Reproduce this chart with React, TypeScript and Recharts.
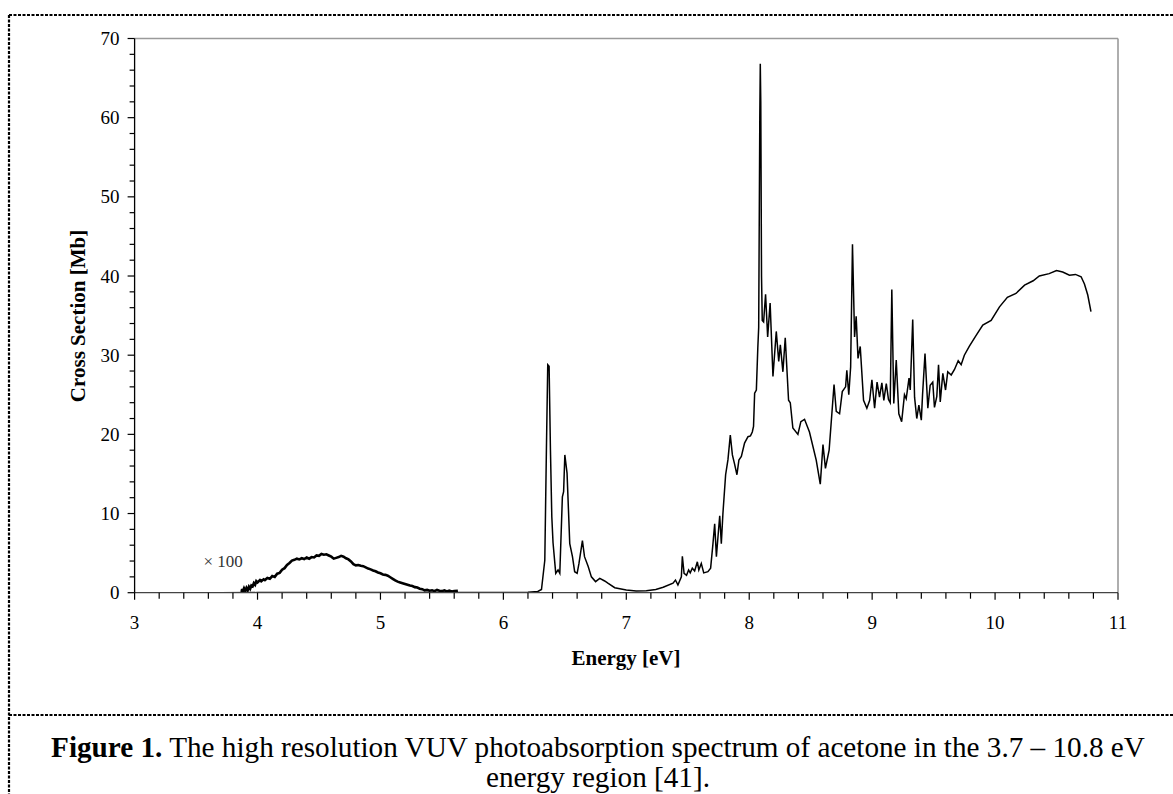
import React from 'react';
import { LineChart, Line, XAxis, YAxis, ReferenceLine, ReferenceDot } from 'recharts';

// Main spectrum: energy [eV] and cross section [Mb]
const mainEnergy = [
  3.7, 4.0, 5.0, 5.6, 6.0, 6.2, 6.28, 6.31, 6.337, 6.35, 6.361, 6.372, 6.383, 6.394, 6.404, 6.426, 6.445, 6.459,
  6.48, 6.49, 6.5, 6.518, 6.54, 6.562, 6.58, 6.6, 6.615, 6.643, 6.66, 6.69, 6.716, 6.75, 6.784, 6.824, 6.85, 6.906,
  7.0, 7.08, 7.163, 7.24, 7.3, 7.38, 7.4, 7.42, 7.448, 7.456, 7.47, 7.49, 7.507, 7.52, 7.537, 7.556, 7.578, 7.59,
  7.61, 7.63, 7.664, 7.686, 7.705, 7.719, 7.733, 7.746, 7.76, 7.773, 7.786, 7.808, 7.827, 7.846, 7.863, 7.88, 7.9,
  7.916, 7.936, 7.962, 7.99, 8.01, 8.025, 8.035, 8.044, 8.058, 8.07, 8.077, 8.086, 8.09, 8.094, 8.1, 8.106, 8.117,
  8.133, 8.15, 8.17, 8.193, 8.22, 8.24, 8.253, 8.274, 8.293, 8.32, 8.334, 8.355, 8.396, 8.42, 8.45, 8.49, 8.545,
  8.578, 8.6, 8.62, 8.65, 8.69, 8.708, 8.735, 8.757, 8.784, 8.794, 8.81, 8.825, 8.84, 8.857, 8.87, 8.885, 8.903,
  8.93, 8.957, 8.98, 8.998, 9.02, 9.04, 9.06, 9.079, 9.095, 9.115, 9.133, 9.147, 9.16, 9.176, 9.196, 9.217, 9.24,
  9.263, 9.277, 9.3, 9.31, 9.33, 9.345, 9.363, 9.38, 9.4, 9.41, 9.43, 9.453, 9.472, 9.493, 9.507, 9.526, 9.54,
  9.554, 9.575, 9.597, 9.615, 9.643, 9.67, 9.7, 9.724, 9.75, 9.79, 9.846, 9.9, 9.968, 10.036, 10.1, 10.17, 10.24,
  10.31, 10.36, 10.44, 10.5, 10.55, 10.605, 10.654, 10.7, 10.727, 10.754, 10.78,
];
const mainCross = [
  0, 0.01, 0.02, 0.01, 0.02, 0.05, 0.15, 0.4, 4.1, 18, 28.8, 28.6, 18, 9.6, 6.3, 2.45, 2.87, 2.45,
  12.1, 12.75, 17.4, 15.1, 6.2, 4.55, 2.65, 2.45, 3.7, 6.57, 4.55, 3.3, 2.0, 1.4, 1.8, 1.48, 1.2, 0.63,
  0.34, 0.22, 0.25, 0.4, 0.68, 1.2, 1.6, 0.97, 2.0, 4.6, 2.45, 2.2, 2.87, 2.5, 3.1, 2.74, 3.9, 2.87,
  3.7, 2.5, 2.65, 3.1, 6.2, 8.7, 4.55, 7.1, 9.7, 6.2, 10, 14.9, 16.8, 19.9, 17.4, 16.3, 14.9,
  16.75, 17.2, 18.9, 19.7, 19.8, 20.3, 21, 25.2, 25.6, 31, 33.5, 60, 66.8, 62, 40, 34.4, 34.2,
  37.7, 32.3, 36.6, 27.3, 33, 29.2, 31.3, 27.9, 32.2, 24.3, 24, 20.8, 20, 21.6, 21.9, 20.3, 16.75,
  13.7, 18.7, 15.7, 18, 26.3, 22.9, 22.6, 25.4, 26, 28.1, 25, 28.5, 44, 32.3, 34.9, 29.6, 31.1,
  24.3, 23.3, 24.3, 26.9, 23.3, 26.6, 24.7, 26.5, 24.3, 26.4, 24.4, 24, 38.3, 23.9, 29.4, 22.6, 21.6,
  25, 24.5, 27.1, 25.6, 34.5, 24.7, 22, 23.7, 21.8, 25, 30.2, 23.3, 26.2, 26.6, 23.4, 24.8, 28.8,
  24.1, 27.7, 25.6, 27.9, 27.5, 28.2, 29.3, 28.8, 30, 31.1, 32.5, 33.8, 34.4, 36.1, 37.3, 37.8, 38.85,
  39.4, 40, 40.3, 40.7, 40.5, 40.1, 40.2, 39.9, 39, 37.6, 35.5,
];

// Weak n→π* band, shown multiplied by 100
const lowEnergy = [
  3.87, 3.875, 3.88, 3.89, 3.9, 3.91, 3.92, 3.93, 3.94, 3.95, 3.96, 3.97, 3.98, 3.99, 4.0, 4.02, 4.03, 4.05,
  4.06, 4.08, 4.1, 4.12, 4.14, 4.16, 4.18, 4.2, 4.22, 4.24, 4.26, 4.28, 4.3, 4.32, 4.34, 4.36, 4.38, 4.4,
  4.42, 4.44, 4.46, 4.48, 4.5, 4.52, 4.54, 4.56, 4.58, 4.6, 4.62, 4.64, 4.66, 4.68, 4.7, 4.72, 4.74, 4.76,
  4.78, 4.8, 4.82, 4.84, 4.86, 4.88, 4.9, 4.92, 4.94, 4.96, 4.98, 5.0, 5.02, 5.04, 5.06, 5.08, 5.1, 5.12,
  5.14, 5.16, 5.18, 5.2, 5.22, 5.24, 5.26, 5.28, 5.3, 5.32, 5.34, 5.36, 5.38, 5.4, 5.42, 5.44, 5.46, 5.48,
  5.5, 5.52, 5.54, 5.56, 5.58, 5.6, 5.63,
];
const lowCrossX100 = [
  0.1, 0.45, 0.15, 0.55, 0.2, 0.6, 0.3, 0.75, 0.5, 0.9, 0.8, 1.2, 1.0, 1.45, 1.3, 1.6, 1.45, 1.7,
  1.6, 1.85, 1.75, 2.1, 2.0, 2.4, 2.5, 2.9, 3.1, 3.5, 3.75, 4.05, 4.15, 4.3, 4.2, 4.35, 4.25, 4.45,
  4.3, 4.5, 4.45, 4.7, 4.65, 4.9, 4.8, 4.85, 4.7, 4.55, 4.3, 4.4, 4.5, 4.65, 4.55, 4.35, 4.2, 3.95,
  3.6, 3.45, 3.5, 3.4, 3.35, 3.2, 3.05, 2.95, 2.8, 2.7, 2.55, 2.45, 2.3, 2.25, 2.15, 1.95, 1.75, 1.55,
  1.4, 1.3, 1.2, 1.1, 1.0, 0.9, 0.85, 0.7, 0.65, 0.5, 0.45, 0.3, 0.35, 0.25, 0.3, 0.2, 0.35, 0.25,
  0.2, 0.3, 0.15, 0.25, 0.15, 0.2, 0.25,
];

const xTicks = [
  3, 3.2, 3.4, 3.6, 3.8, 4, 4.2, 4.4, 4.6, 4.8, 5, 5.2, 5.4, 5.6, 5.8, 6, 6.2, 6.4, 6.6, 6.8, 7,
  7.2, 7.4, 7.6, 7.8, 8, 8.2, 8.4, 8.6, 8.8, 9, 9.2, 9.4, 9.6, 9.8, 10, 10.2, 10.4, 10.6, 10.8, 11,
];
const xLabelTicks = [3, 4, 5, 6, 7, 8, 9, 10, 11];
const yTicks = [
  0, 2, 4, 6, 8, 10, 12, 14, 16, 18, 20, 22, 24, 26, 28, 30, 32, 34, 36, 38, 40, 42, 44, 46, 48, 50,
  52, 54, 56, 58, 60, 62, 64, 66, 68, 70,
];
const yLabelTicks = [0, 10, 20, 30, 40, 50, 60, 70];

const mainData = mainEnergy.map((e, i) => ({ e, v: mainCross[i] }));
const lowData = lowEnergy.map((e, i) => ({ e, v: lowCrossX100[i] }));

const serif = "'Liberation Serif', 'Times New Roman', serif";

const isLabel = (list: number[], v: number) => list.some((t) => Math.abs(t - v) < 1e-6);

const XTick = (props: any) => {
  const { x, y, payload } = props;
  const major = isLabel(xLabelTicks, payload.value);
  return (
    <g>
      <line x1={x} x2={x} y1={y} y2={y + (major ? 7 : 6)} stroke="#000" strokeWidth={1.2} />
      {major && (
        <text x={x} y={y + 30} textAnchor="middle" dominantBaseline="central" fontFamily={serif} fontSize={19} fill="#000">
          {payload.value}
        </text>
      )}
    </g>
  );
};

const YTick = (props: any) => {
  const { x, y, payload } = props;
  const major = isLabel(yLabelTicks, payload.value);
  return (
    <g>
      <line x1={x - (major ? 7 : 5)} x2={x} y1={y} y2={y} stroke="#000" strokeWidth={1.2} />
      {major && (
        <text x={x - 15} y={y} textAnchor="end" dominantBaseline="central" fontFamily={serif} fontSize={19} fill="#000">
          {payload.value}
        </text>
      )}
    </g>
  );
};

export default function App() {
  return (
    <div style={{ position: 'fixed', left: 0, top: 0, width: 1173, height: 794, background: '#fff' }}>
      <LineChart width={1173} height={794} margin={{ top: 38.5, right: 55, bottom: 161.3, left: 74.6 }}>
        <XAxis
          type="number"
          dataKey="e"
          domain={[3, 11]}
          ticks={xTicks}
          interval={0}
          allowDataOverflow
          height={40}
          tickSize={0}
          tickMargin={0}
          tickLine={false}
          axisLine={{ stroke: '#444', strokeWidth: 1.2 }}
          tick={<XTick />}
        />
        <YAxis
          type="number"
          domain={[0, 70]}
          ticks={yTicks}
          interval={0}
          allowDataOverflow
          width={60}
          tickSize={0}
          tickMargin={0}
          tickLine={false}
          axisLine={{ stroke: '#000', strokeWidth: 1.3 }}
          tick={<YTick />}
        />
        <ReferenceLine y={70} stroke="#9a9a9a" strokeWidth={1.6} />
        <ReferenceLine x={11} stroke="#9a9a9a" strokeWidth={1.6} />
        <Line
          data={lowData}
          dataKey="v"
          type="linear"
          stroke="#000"
          strokeWidth={2.6}
          dot={false}
          isAnimationActive={false}
        />
        <Line
          data={mainData}
          dataKey="v"
          type="linear"
          stroke="#000"
          strokeWidth={1.5}
          dot={false}
          isAnimationActive={false}
        />
        <ReferenceDot
          x={3.72}
          y={4}
          r={0}
          fill="none"
          stroke="none"
          label={{ value: '× 100', position: 'center', fontFamily: serif, fontSize: 17, fill: '#333' }}
        />
      </LineChart>
      <svg
        width={1173}
        height={794}
        style={{ position: 'absolute', left: 0, top: 0, pointerEvents: 'none' }}
      >
        <g stroke="#000" strokeWidth={2.2} strokeDasharray="3 1.5" fill="none">
          <path d="M9,15 H1173" />
          <path d="M9,15 V794" />
          <path d="M9,715 H1173" />
        </g>
        <text x={626} y={658} textAnchor="middle" dominantBaseline="central" fontFamily={serif} fontWeight="bold" fontSize={21}>
          Energy [eV]
        </text>
        <text
          x={78}
          y={316}
          textAnchor="middle"
          dominantBaseline="central"
          fontFamily={serif}
          fontWeight="bold"
          fontSize={21}
          transform="rotate(-90 78 316)"
        >
          Cross Section [Mb]
        </text>
        <text x={598} y={757} textAnchor="middle" fontFamily={serif} fontSize={29.2}>
          <tspan fontWeight="bold">Figure 1.</tspan>
          <tspan> The high resolution VUV photoabsorption spectrum of acetone in the 3.7 – 10.8 eV</tspan>
        </text>
        <text x={598} y={787} textAnchor="middle" fontFamily={serif} fontSize={29.2}>
          energy region [41].
        </text>
      </svg>
    </div>
  );
}
